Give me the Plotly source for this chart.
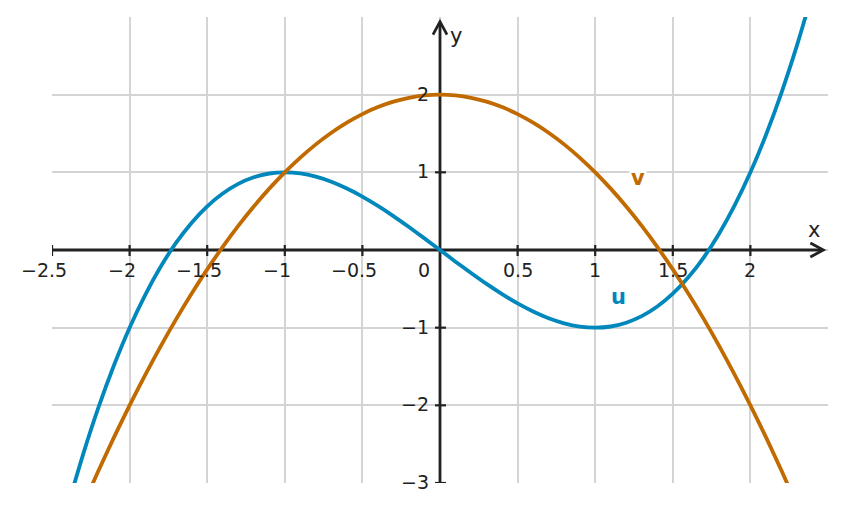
import plotly.graph_objects as go

# ---- data ----
u_x = [-2.4, -2.3, -2.2, -2.1, -2.0, -1.9, -1.8, -1.7, -1.6, -1.5, -1.4, -1.3, -1.2, -1.1, -1.0,
       -0.9, -0.8, -0.7, -0.6, -0.5, -0.4, -0.3, -0.2, -0.1, 0.0,
       0.1, 0.2, 0.3, 0.4, 0.5, 0.6, 0.7, 0.8, 0.9, 1.0,
       1.1, 1.2, 1.3, 1.4, 1.5, 1.6, 1.7, 1.8, 1.9, 2.0, 2.1, 2.2, 2.3, 2.4]
u_y = [-3.312, -2.634, -2.024, -1.481, -1.0, -0.580, -0.216, 0.094, 0.352, 0.563, 0.728, 0.852, 0.936, 0.985, 1.0,
       0.986, 0.944, 0.879, 0.792, 0.688, 0.568, 0.437, 0.296, 0.150, 0.0,
       -0.150, -0.296, -0.437, -0.568, -0.688, -0.792, -0.879, -0.944, -0.986, -1.0,
       -0.985, -0.936, -0.852, -0.728, -0.563, -0.352, -0.094, 0.216, 0.580, 1.0, 1.481, 2.024, 2.634, 3.312]

v_x = [-2.3, -2.2, -2.1, -2.0, -1.9, -1.8, -1.7, -1.6, -1.5, -1.4, -1.3, -1.2, -1.1, -1.0,
       -0.9, -0.8, -0.7, -0.6, -0.5, -0.4, -0.3, -0.2, -0.1, 0.0,
       0.1, 0.2, 0.3, 0.4, 0.5, 0.6, 0.7, 0.8, 0.9, 1.0,
       1.1, 1.2, 1.3, 1.4, 1.5, 1.6, 1.7, 1.8, 1.9, 2.0, 2.1, 2.2, 2.3]
v_y = [-3.29, -2.84, -2.41, -2.0, -1.61, -1.24, -0.89, -0.56, -0.25, 0.04, 0.31, 0.56, 0.79, 1.0,
       1.19, 1.36, 1.51, 1.64, 1.75, 1.84, 1.91, 1.96, 1.99, 2.0,
       1.99, 1.96, 1.91, 1.84, 1.75, 1.64, 1.51, 1.36, 1.19, 1.0,
       0.79, 0.56, 0.31, 0.04, -0.25, -0.56, -0.89, -1.24, -1.61, -2.0, -2.41, -2.84, -3.29]

x_ticks = [-2.5, -2.0, -1.5, -1.0, -0.5, 0.5, 1.0, 1.5, 2.0]
y_ticks = [-3, -2, -1, 1, 2]
x_grid = [-2.5, -2.0, -1.5, -1.0, -0.5, 0.0, 0.5, 1.0, 1.5, 2.0]
y_grid = [-3, -2, -1, 0, 1, 2]

BLUE = "#0087BB"
ORANGE = "#C06A00"
AX = "#222222"
FONT = "DejaVu Sans"

fig = go.Figure()
fig.add_trace(go.Scatter(x=u_x, y=u_y, mode="lines",
                         line=dict(color=BLUE, width=3.8, shape="spline", smoothing=0.8),
                         hoverinfo="skip", showlegend=False))
fig.add_trace(go.Scatter(x=v_x, y=v_y, mode="lines",
                         line=dict(color=ORANGE, width=3.8, shape="spline", smoothing=0.8),
                         hoverinfo="skip", showlegend=False))

LAYER = "between"
shapes = []
# axes lines
shapes.append(dict(type="line", x0=-2.5, x1=2.465, y0=0, y1=0, line=dict(color=AX, width=2.8), layer=LAYER))
shapes.append(dict(type="line", x0=0, x1=0, y0=-3, y1=2.93, line=dict(color=AX, width=2.8), layer=LAYER))
# arrowheads
shapes.append(dict(type="path", xsizemode="pixel", ysizemode="pixel", xanchor=2.47, yanchor=0,
                   path="M-13,-7 L0,0 L-13,7", line=dict(color=AX, width=2.8), layer=LAYER))
shapes.append(dict(type="path", xsizemode="pixel", ysizemode="pixel", xanchor=0, yanchor=2.94,
                   path="M-7,-13 L0,0 L7,-13", line=dict(color=AX, width=2.8), layer=LAYER))
# ticks
for t in x_ticks:
    shapes.append(dict(type="line", ysizemode="pixel", yanchor=0, x0=t, x1=t, y0=-6, y1=5,
                       line=dict(color=AX, width=2.2), layer=LAYER))
for t in y_ticks:
    shapes.append(dict(type="line", xsizemode="pixel", xanchor=0, y0=t, y1=t, x0=-5, x1=6,
                       line=dict(color=AX, width=2.2), layer=LAYER))

annotations = []
def fmt(v):
    s = ("%g" % abs(v))
    return ("\u2212" + s) if v < 0 else s

for t in x_ticks:
    annotations.append(dict(x=t, y=0, text=fmt(t), showarrow=False, xanchor="center", yanchor="middle",
                            xshift=-8 if t < 0 else 0, yshift=-20,
                            font=dict(family=FONT, size=19, color=AX)))
for t in y_ticks:
    annotations.append(dict(x=0, y=t, text=fmt(t), showarrow=False, xanchor="right", yanchor="middle",
                            xshift=-9, yshift=1, font=dict(family=FONT, size=19, color=AX)))
annotations.append(dict(x=0, y=0, text="0", showarrow=False, xanchor="center", yanchor="middle",
                        xshift=-16, yshift=-20, font=dict(family=FONT, size=19, color=AX)))
annotations.append(dict(x=2.41, y=0.26, text="x", showarrow=False, font=dict(family=FONT, size=21, color=AX)))
annotations.append(dict(x=0.1, y=2.76, text="y", showarrow=False, font=dict(family=FONT, size=21, color=AX)))
annotations.append(dict(x=1.147, y=-0.6, text="<b>u</b>", showarrow=False,
                        font=dict(family=FONT, size=21, color=BLUE)))
annotations.append(dict(x=1.276, y=0.93, text="<b>v</b>", showarrow=False, bgcolor="white", borderpad=1,
                        font=dict(family=FONT, size=21, color=ORANGE)))

fig.update_layout(
    width=846, height=512,
    margin=dict(l=52, r=18, t=17, b=29),
    paper_bgcolor="white", plot_bgcolor="white",
    shapes=shapes, annotations=annotations,
    xaxis=dict(range=[-2.5, 2.5], tickvals=x_grid, showticklabels=False, ticks="",
               showgrid=True, gridcolor="#D4D4D4", gridwidth=1.5, zeroline=False, showline=False, fixedrange=True),
    yaxis=dict(range=[-3, 3], tickvals=y_grid, showticklabels=False, ticks="",
               showgrid=True, gridcolor="#D4D4D4", gridwidth=1.5, zeroline=False, showline=False, fixedrange=True),
)

fig.write_html("out.html")
